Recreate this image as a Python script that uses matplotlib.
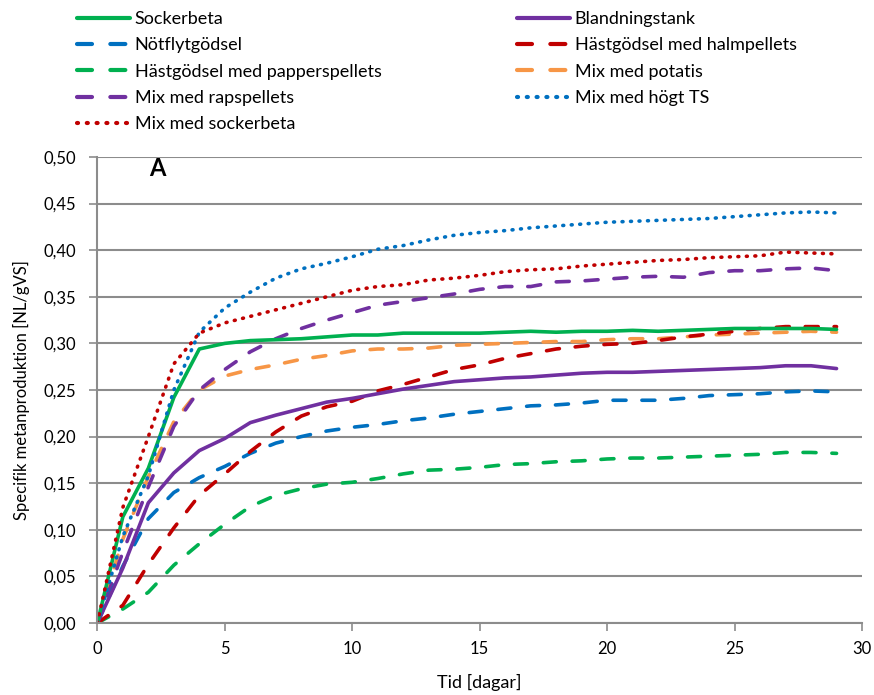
import matplotlib
matplotlib.use("Agg")
import matplotlib.pyplot as plt
from matplotlib.ticker import FuncFormatter, MultipleLocator

plt.rcParams['font.family'] = ['Lato', 'DejaVu Sans']

# --- data (dag 0..29) ---
dagar = list(range(30))

sockerbeta = [0, 0.114, 0.166, 0.242, 0.294, 0.300, 0.303, 0.304, 0.305, 0.307,
              0.309, 0.309, 0.311, 0.311, 0.311, 0.311, 0.312, 0.313, 0.312, 0.313,
              0.313, 0.314, 0.313, 0.314, 0.315, 0.316, 0.316, 0.316, 0.316, 0.315]
blandningstank = [0, 0.059, 0.129, 0.161, 0.185, 0.198, 0.215, 0.223, 0.230, 0.237,
                  0.241, 0.246, 0.251, 0.255, 0.259, 0.261, 0.263, 0.264, 0.266, 0.268,
                  0.269, 0.269, 0.270, 0.271, 0.272, 0.273, 0.274, 0.276, 0.276, 0.273]
notflytgodsel = [0, 0.061, 0.112, 0.140, 0.156, 0.168, 0.182, 0.193, 0.200, 0.206,
                 0.210, 0.213, 0.217, 0.220, 0.224, 0.227, 0.230, 0.233, 0.234, 0.236,
                 0.239, 0.239, 0.239, 0.241, 0.244, 0.245, 0.246, 0.248, 0.249, 0.248]
halmpellets = [0, 0.019, 0.063, 0.102, 0.137, 0.160, 0.184, 0.205, 0.222, 0.232,
               0.238, 0.249, 0.256, 0.264, 0.272, 0.277, 0.284, 0.289, 0.294, 0.297,
               0.299, 0.300, 0.303, 0.307, 0.310, 0.313, 0.316, 0.318, 0.318, 0.318]
papperspellets = [0, 0.015, 0.033, 0.062, 0.085, 0.106, 0.125, 0.137, 0.144, 0.149,
                  0.151, 0.155, 0.160, 0.164, 0.165, 0.167, 0.170, 0.171, 0.173, 0.174,
                  0.176, 0.177, 0.177, 0.178, 0.179, 0.180, 0.181, 0.183, 0.183, 0.182]
potatis = [0, 0.090, 0.157, 0.216, 0.250, 0.265, 0.272, 0.277, 0.283, 0.287,
           0.292, 0.294, 0.294, 0.295, 0.298, 0.299, 0.300, 0.301, 0.302, 0.302,
           0.304, 0.305, 0.305, 0.307, 0.309, 0.310, 0.311, 0.312, 0.313, 0.312]
rapspellets = [0, 0.076, 0.146, 0.211, 0.250, 0.272, 0.291, 0.305, 0.316, 0.325,
               0.333, 0.341, 0.345, 0.349, 0.353, 0.358, 0.361, 0.361, 0.366, 0.367,
               0.369, 0.371, 0.372, 0.371, 0.376, 0.378, 0.378, 0.380, 0.381, 0.378]
hogt_ts = [0, 0.093, 0.158, 0.250, 0.312, 0.338, 0.355, 0.370, 0.380, 0.386,
           0.393, 0.401, 0.405, 0.411, 0.416, 0.419, 0.421, 0.424, 0.426, 0.428,
           0.430, 0.431, 0.432, 0.433, 0.434, 0.436, 0.438, 0.440, 0.441, 0.440]
mix_sockerbeta = [0, 0.124, 0.200, 0.278, 0.311, 0.322, 0.329, 0.336, 0.343, 0.350,
                  0.357, 0.361, 0.363, 0.368, 0.370, 0.373, 0.377, 0.379, 0.380, 0.383,
                  0.385, 0.387, 0.389, 0.390, 0.392, 0.393, 0.394, 0.398, 0.397, 0.396]

GREEN = '#00B050'
PURPLE = '#7030A0'
BLUE = '#0070C0'
RED = '#C00000'
ORANGE = '#F79646'

dash = (0, (3.6, 4.4))
dot = (0, (0.25, 2.1))

fig = plt.figure(figsize=(8.74, 6.95), dpi=100)
ax = fig.add_axes([0.1114, 0.1036, 0.8749, 0.6705])

lw = 2.6
col1 = [
    (sockerbeta, 'Sockerbeta', GREEN, '-'),
    (notflytgodsel, 'Nötflytgödsel', BLUE, dash),
    (papperspellets, 'Hästgödsel med papperspellets', GREEN, dash),
    (rapspellets, 'Mix med rapspellets', PURPLE, dash),
    (mix_sockerbeta, 'Mix med sockerbeta', RED, dot),
]
col2 = [
    (blandningstank, 'Blandningstank', PURPLE, '-'),
    (halmpellets, 'Hästgödsel med halmpellets', RED, dash),
    (potatis, 'Mix med potatis', ORANGE, dash),
    (hogt_ts, 'Mix med högt TS', BLUE, dot),
]
series = col1 + col2

# draw order roughly like the original (dotted on top)
draw_order = [7, 3, 2, 1, 6, 5, 0, 8, 4]
handles = [None] * len(series)
for i in draw_order:
    vals, lab, col, ls = series[i]
    ln, = ax.plot(dagar, vals, color=col, linestyle=ls, lw=lw,
                  dash_capstyle='round', solid_capstyle='round', label=lab)
    handles[i] = ln

ax.set_xlim(0, 30)
ax.set_ylim(0, 0.5)
ax.xaxis.set_major_locator(MultipleLocator(5))
ax.yaxis.set_major_locator(MultipleLocator(0.05))
ax.yaxis.set_major_formatter(FuncFormatter(lambda v, p: f"{v:.2f}".replace('.', ',')))
ax.grid(axis='y', color='#8c8c8c', lw=1.5)
ax.set_axisbelow(True)
for s in ['top', 'right']:
    ax.spines[s].set_visible(False)
for s in ['left', 'bottom']:
    ax.spines[s].set_color('#8c8c8c')
    ax.spines[s].set_linewidth(1.5)
ax.tick_params(axis='both', colors='#8c8c8c', width=1.2, length=6, labelsize=12,
               labelcolor='black')
ax.tick_params(axis='x', pad=7)
ax.tick_params(axis='y', pad=9)

ax.set_xlabel('Tid [dagar]', fontsize=13, labelpad=12)
ax.set_ylabel('Specifik metanproduktion [NL/gVS]', fontsize=12, labelpad=10)

ax.text(2.35, 0.488, 'A', fontsize=17, fontweight='bold', ha='center', va='center')

# legend: two separate columns above the plot
leg_kw = dict(loc='upper left', frameon=False, fontsize=13, handlelength=2.95,
              handletextpad=0.28, labelspacing=0.57, borderpad=0, borderaxespad=0)
leg1 = fig.legend(handles=handles[:5], labels=[s[1] for s in col1],
                  bbox_to_anchor=(76.5 / 874, 1 - 11 / 695), **leg_kw)
leg2 = fig.legend(handles=handles[5:], labels=[s[1] for s in col2],
                  bbox_to_anchor=(516.5 / 874, 1 - 11 / 695), **leg_kw)
for lg in (leg1, leg2):
    for l in lg.get_lines():
        l.set_linewidth(3.0)

fig.savefig('out.png', dpi=100)
